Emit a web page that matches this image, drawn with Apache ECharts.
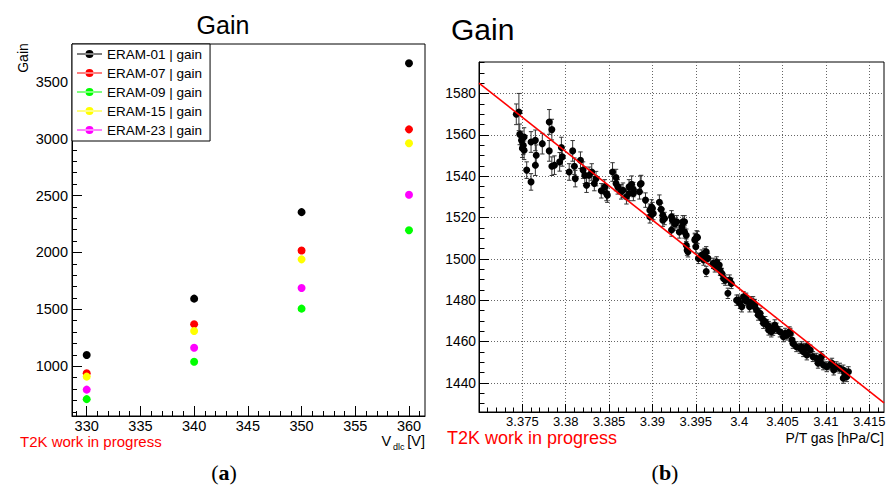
<!DOCTYPE html>
<html><head><meta charset="utf-8">
<script src="https://cdn.jsdelivr.net/npm/echarts@6/dist/echarts.min.js"></script>
<style>html,body{margin:0;padding:0;background:#fff}#c{width:888px;height:487px}</style>
</head><body><div id="c"></div>
<script>
// ---------- Panel (a) data ----------
const voltages = [330, 340, 350, 360];
const eram01 = [1099, 1594, 2354, 3662];
const eram07 = [939, 1369, 2017, 3081];
const eram09 = [711, 1040, 1506, 2195];
const eram15 = [909, 1310, 1939, 2959];
const eram23 = [795, 1163, 1687, 2506];
const seriesNames = ['ERAM-01 | gain', 'ERAM-07 | gain', 'ERAM-09 | gain', 'ERAM-15 | gain', 'ERAM-23 | gain'];
const seriesColors = ['#000000', '#ff0000', '#00ff00', '#ffff00', '#ff00ff'];
const leftXTicks = [330, 335, 340, 345, 350, 355, 360];
const leftYTicks = [1000, 1500, 2000, 2500, 3000, 3500];

// ---------- Panel (b) data ----------
const ptX = [
 3.3743,3.3746,3.3747,3.3749,3.3750,3.3751,3.3752,3.3752,3.3755,3.3760,
 3.3760,3.3765,3.3766,3.3765,3.3773,3.3781,3.3784,3.3781,3.3784,3.3787,
 3.3793,3.3796,3.3795,3.3804,3.3808,3.3811,3.3810,3.3817,3.3820,3.3822,
 3.3824,3.3827,3.3830,3.3833,3.3835,3.3841,3.3845,3.3847,3.3848,3.3854,
 3.3858,3.3858,3.3860,3.3864,3.3866,3.3870,3.3873,3.3873,3.3876,3.3878,
 3.3878,3.3886,3.3885,3.3887,3.3892,3.3897,3.3899,3.3897,3.3900,3.3901,
 3.3908,3.3910,3.3912,3.3912,3.3914,3.3922,3.3923,3.3926,3.3922,3.3928,
 3.3931,3.3934,3.3935,3.3937,3.3939,3.3939,3.3937,3.3941,3.3940,3.3949,
 3.3952,3.3949,3.3951,3.3950,3.3953,3.3957,3.3959,3.3960,3.3962,3.3964,
 3.3962,3.3974,3.3977,3.3978,3.3970,3.3972,3.3980,3.3982,3.3984,3.3989,
 3.3991,3.3987,3.3997,3.3999,3.4001,3.4003,3.4005,3.4007,3.4008,3.4010,
 3.4012,3.4014,3.4016,3.4018,3.4018,3.4020,3.4022,3.4024,3.4026,3.4028,
 3.4030,3.4032,3.4034,3.4034,3.4036,3.4037,3.4039,3.4041,3.4043,3.4047,
 3.4051,3.4053,3.4055,3.4058,3.4059,3.4061,3.4062,3.4066,3.4070,3.4072,
 3.4074,3.4076,3.4078,3.4078,3.4082,3.4085,3.4089,3.4091,3.4093,3.4095,
 3.4097,3.4101,3.4105,3.4107,3.4109,3.4112,3.4116,3.4120,3.4120,3.4122,3.4124,3.4126
];
const ptY = [
 1570.0,1571.1,1560.3,1557.4,1553.6,1555.0,1552.6,1559.0,1543.0,1537.3,
 1556.6,1557.4,1550.2,1545.4,1555.8,1566.3,1562.6,1552.3,1544.9,1545.4,
 1547.0,1549.4,1553.9,1542.1,1552.3,1538.9,1544.9,1547.8,1543.0,1540.5,
 1535.7,1540.5,1542.1,1536.5,1538.9,1533.0,1534.9,1531.7,1530.9,1542.1,
 1539.4,1536.5,1534.9,1532.5,1533.3,1530.1,1534.9,1531.7,1536.2,1531.7,
 1533.6,1536.2,1532.5,1536.5,1528.5,1520.4,1525.2,1523.6,1524.4,1522.0,
 1527.5,1524.0,1521.2,1518.8,1519.6,1520.4,1518.8,1516.9,1514.0,1518.0,
 1513.1,1515.6,1518.0,1518.0,1511.5,1506.7,1513.1,1503.5,1504.3,1509.5,
 1510.4,1509.1,1510.7,1505.9,1500.3,1501.9,1499.5,1502.7,1503.5,1500.3,
 1494.0,1498.6,1497.1,1494.6,1497.9,1496.2,1493.0,1490.6,1489.8,1489.8,
 1488.2,1483.4,1480.1,1480.1,1478.6,1476.9,1481.7,1480.1,1481.0,1479.3,
 1476.9,1479.3,1479.3,1476.9,1478.0,1475.3,1472.9,1473.7,1471.3,1468.9,
 1469.7,1468.1,1467.3,1465.7,1466.5,1464.8,1465.6,1468.1,1466.5,1464.8,
 1462.4,1464.1,1463.2,1464.8,1464.1,1460.8,1459.2,1457.6,1456.8,1457.6,
 1455.2,1456.8,1457.6,1453.6,1456.0,1452.8,1452.0,1449.6,1451.2,1452.8,
 1448.8,1447.9,1448.8,1449.6,1446.3,1447.9,1447.2,1446.3,1442.3,1444.7,1443.1,1445.5
];
const ptErr = [
 5,9,5,4.5,4.5,4.5,4.5,4.5,4,4,
 5,5,5,5,5,6,5,5,4.5,4.5,
 4.5,4.5,5,4,5,4,4,4,4,4,
 3.5,4,4,3.5,3.5,3.5,3.5,3.5,3.5,4.5,
 4,3.5,3.5,3.5,3.5,3.5,3.5,3.5,4,3.5,
 3.5,4,3.5,4,3.5,3,3.5,3,3,3,
 3.5,3,3,3,3,3,3,3,3,3,
 3,3,3,3,3,3,3,2.5,2.5,3,
 3,3,3,3,2.5,2.5,2.5,2.5,2.5,2.5,
 2.5,2.5,2.5,2.5,2.5,2.5,2.5,2.5,2.5,2.5,
 2.5,2.5,2.5,2.5,2.5,2.5,2.5,2.5,2.5,2.5,
 2.5,2.5,2.5,2.5,2.5,2.5,2.5,2.5,2.5,2.5,
 2.5,2.5,2.5,2.5,2.5,2.5,2.5,2.5,2.5,2.5,
 2.4,2.4,2.4,2.4,2.4,2.4,2.4,2.4,2.4,2.4,
 2.4,2.4,2.4,2.4,2.4,2.4,2.4,2.4,2.4,2.4,
 2.4,2.4,2.4,2.4,2.4,2.4,2.4,2.4,2.4,2.4,2.4,2.4
];
const fitX = [3.3700, 3.4167];
const fitY = [1585.1, 1430.4];
const rightXTicks = [3.375, 3.38, 3.385, 3.39, 3.395, 3.4, 3.405, 3.41, 3.415];
const rightYTicks = [1440, 1460, 1480, 1500, 1520, 1540, 1560, 1580];

// minor tick positions (axis decoration)
const leftXMinor = []; for (let v = 329; v <= 361; v++) leftXMinor.push(v);
const leftYMinor = []; for (let v = 600; v <= 3800; v += 100) leftYMinor.push(v);
const rightXMinor = []; for (let i = 3370; i <= 3416; i++) rightXMinor.push(i / 1000);
const rightYMinor = []; for (let v = 1430; v <= 1595; v += 5) rightYMinor.push(v);

const FONT = 'Liberation Sans';
const fmt = v => String(parseFloat((+v).toFixed(4)));

const chart = echarts.init(document.getElementById('c'), null, {renderer: 'svg'});

const LG = {left: 72, top: 44, width: 353, height: 372};
const RG = {left: 479, top: 62, width: 405, height: 350};
const LX = {min: 328.63, max: 361.49};
const LY = {min: 563, max: 3831};
const RX = {min: 3.370, max: 3.4167};
const RY = {min: 1426, max: 1595.3};

function majorAxis(gi, range, ticks, tickLen, fs, margin, split) {
  return {
    type: 'value', gridIndex: gi, min: range.min, max: range.max,
    axisLine: {show: true, lineStyle: {color: '#000', width: 1}},
    axisTick: {show: true, inside: true, length: tickLen, customValues: ticks, lineStyle: {color: '#000', width: 1}},
    axisLabel: {show: true, customValues: ticks, margin: margin, fontSize: fs, lineHeight: fs - 1, fontFamily: FONT, color: '#000', formatter: fmt},
    splitLine: {show: !!split, lineStyle: {color: '#666', width: 1, type: [1, 2]}},
    minorTick: {show: false}
  };
}
function minorAxis(gi, range, ticks, tickLen) {
  return {
    type: 'value', gridIndex: gi, min: range.min, max: range.max,
    axisLine: {show: false},
    axisTick: {show: true, inside: true, length: tickLen, customValues: ticks, lineStyle: {color: '#000', width: 1}},
    axisLabel: {show: false},
    splitLine: {show: false}
  };
}

const leftSeriesData = [eram01, eram07, eram09, eram15, eram23];
const legendIcon = 'path://M0,3.6 L25,3.6 L25,4.4 L0,4.4 Z M8.5,4 A4,4 0 1 0 16.5,4 A4,4 0 1 0 8.5,4 Z';

const series = leftSeriesData.map((arr, k) => ({
  name: seriesNames[k], type: 'scatter', xAxisIndex: 0, yAxisIndex: 0,
  symbol: 'circle', symbolSize: 8,
  itemStyle: {color: seriesColors[k], opacity: 1},
  data: voltages.map((v, i) => [v, arr[i]]),
  z: 3
}));

series.push({
  type: 'custom', xAxisIndex: 2, yAxisIndex: 2, z: 2,
  data: ptX.map((x, i) => [x, ptY[i], ptErr[i]]),
  encode: {x: 0, y: 1},
  renderItem: function (params, api) {
    const x = api.value(0), y = api.value(1), e = api.value(2);
    const t = api.coord([x, y + e]);
    const b = api.coord([x, y - e]);
    const c = 2.2;
    const st = {stroke: '#333', lineWidth: 1};
    return {type: 'group', children: [
      {type: 'line', shape: {x1: t[0], y1: t[1], x2: b[0], y2: b[1]}, style: st},
      {type: 'line', shape: {x1: t[0] - c, y1: t[1], x2: t[0] + c, y2: t[1]}, style: st},
      {type: 'line', shape: {x1: b[0] - c, y1: b[1], x2: b[0] + c, y2: b[1]}, style: st}
    ]};
  }
});
series.push({
  type: 'scatter', xAxisIndex: 2, yAxisIndex: 2, z: 3,
  symbol: 'circle', symbolSize: 7, itemStyle: {color: '#000', opacity: 1},
  data: ptX.map((x, i) => [x, ptY[i]])
});
series.push({
  type: 'line', xAxisIndex: 2, yAxisIndex: 2, z: 4,
  showSymbol: false, symbol: 'none',
  lineStyle: {color: '#ff0000', width: 1.6},
  data: fitX.map((x, i) => [x, fitY[i]])
});

function txt(x, y, text, fs, align, extra) {
  return Object.assign({type: 'text', x: x, y: y, silent: true,
    style: {text: text, fontSize: fs, lineHeight: fs, fontFamily: FONT, fill: '#000', align: align, verticalAlign: 'middle'}}, extra || {});
}
const redT = (x, y, fs) => {
  const o = txt(x, y, 'T2K work in progress', fs, 'left'); o.style.fill = '#ff0000'; o.style.lineHeight = fs - 2; return o;
};
const serifLabel = (x, y, letter) => ({
  type: 'text', x: x, y: y, silent: true,
  style: {
    text: '{n|(}{b|' + letter + '}{n|)}', align: 'center', verticalAlign: 'middle',
    rich: {
      n: {fontFamily: 'Liberation Serif', fontSize: 22, fill: '#000'},
      b: {fontFamily: 'Liberation Serif', fontSize: 22, fontWeight: 'bold', fill: '#000'}
    }
  }
});

const option = {
  animation: false,
  backgroundColor: '#fff',
  grid: [
    Object.assign({show: true, borderColor: '#000', borderWidth: 1, backgroundColor: 'transparent', outerBoundsMode: 'none', containLabel: false}, LG),
    Object.assign({show: false, outerBoundsMode: 'none', containLabel: false}, LG),
    Object.assign({show: true, borderColor: '#000', borderWidth: 1, backgroundColor: 'transparent', outerBoundsMode: 'none', containLabel: false}, RG),
    Object.assign({show: false, outerBoundsMode: 'none', containLabel: false}, RG)
  ],
  xAxis: [
    majorAxis(0, LX, leftXTicks, 10, 14.5, 3, false),
    minorAxis(1, LX, leftXMinor, 5),
    majorAxis(2, RX, rightXTicks, 8, 13, 3, true),
    minorAxis(3, RX, rightXMinor, 4.5)
  ],
  yAxis: [
    majorAxis(0, LY, leftYTicks, 10, 14.5, 4, false),
    minorAxis(1, LY, leftYMinor, 5),
    majorAxis(2, RY, rightYTicks, 10, 13.8, 3, true),
    minorAxis(3, RY, rightYMinor, 5.5)
  ],
  legend: {
    show: true, orient: 'vertical', left: 72, top: 44,
    padding: [3, 8, 4, 5], itemGap: 5, itemWidth: 25, itemHeight: 8,
    backgroundColor: '#fff', borderColor: '#000', borderWidth: 1, borderRadius: 0,
    icon: legendIcon, selectedMode: false,
    textStyle: {fontFamily: FONT, fontSize: 13.5, color: '#000', lineHeight: 14},
    data: seriesNames
  },
  graphic: [
    txt(223, 25, 'Gain', 25, 'center'),
    txt(451, 29, 'Gain', 30, 'left'),
    txt(23, 58, 'Gain', 14, 'center', {rotation: Math.PI / 2}),
    txt(381.5, 441, 'V', 14.5, 'left'),
    txt(393, 447, 'dlc', 9, 'left'),
    txt(425, 441, '[V]', 14.5, 'right'),
    txt(884, 438, 'P/T gas [hPa/C]', 14, 'right'),
    redT(20, 441, 15),
    redT(447, 437.5, 18),
    serifLabel(224, 472, 'a'),
    serifLabel(665, 472, 'b')
  ],
  series: series
};
chart.setOption(option);
</script></body></html>
